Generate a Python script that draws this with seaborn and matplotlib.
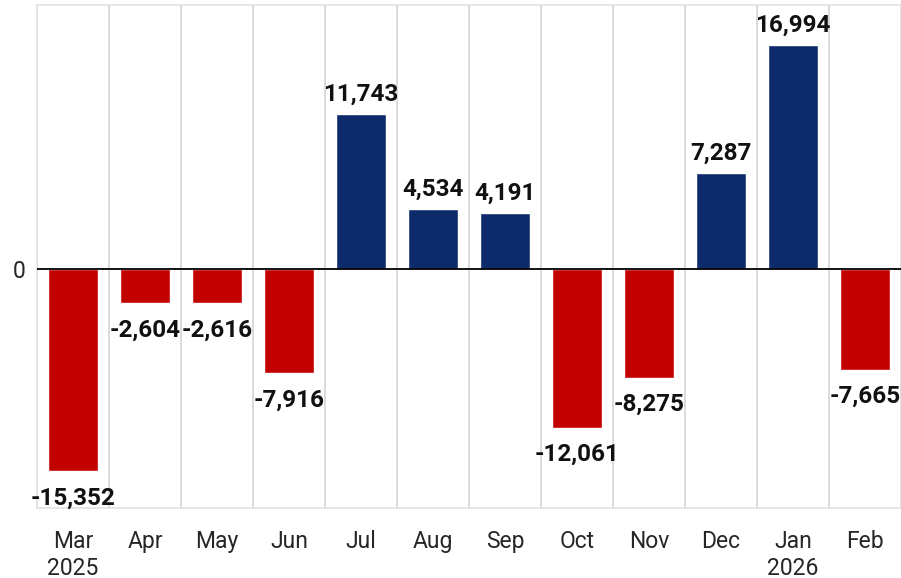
import numpy as np
import pandas as pd
import matplotlib
matplotlib.use("Agg")
import matplotlib.pyplot as plt
import seaborn as sns

months = ["Mar\n2025", "Apr", "May", "Jun", "Jul", "Aug", "Sep",
          "Oct", "Nov", "Dec", "Jan\n2026", "Feb"]
values = [-15352, -2604, -2616, -7916, 11743, 4534, 4191,
          -12061, -8275, 7287, 16994, -7665]

navy = "#0d2b6b"
red = "#c20000"

df = pd.DataFrame({"Month": months, "Value": values})
colors = [navy if v > 0 else red for v in values]

sns.set_style("white")
plt.rcParams["font.family"] = ["Roboto", "DejaVu Sans"]

fig = plt.figure(figsize=(9.01, 5.78), dpi=100)
ax = fig.add_axes([37 / 901, 70 / 578, 864 / 901, 503 / 578])

sns.barplot(data=df, x="Month", y="Value", hue="Month", palette=colors,
            legend=False, width=0.7, ax=ax, saturation=1)

# negative labels sit a bit further from the bar end
for c in ax.containers:
    neg = c.datavalues[0] < 0
    ax.bar_label(c, fmt="{:,.0f}", padding=11 if neg else 6, fontsize=17.5,
                 fontweight="bold", color="#111111")

ax.set_xlim(-0.5, 11.5)
ax.set_ylim(-18150, 20000)
ax.axhline(0, color="black", lw=1.3, zorder=3)

# light separators between months
ax.set_xticks(np.arange(-0.5, 12, 1), minor=True)
ax.grid(which="minor", axis="x", color="#d4d4d4", lw=1.2)
ax.set_axisbelow(True)
ax.tick_params(which="both", length=0)

ax.set_yticks([0])
ax.set_yticklabels(["0"], fontsize=16.5)
ax.tick_params(axis="y", pad=8)
ax.tick_params(axis="x", labelsize=16.5, pad=16)
ax.set_xlabel("")
ax.set_ylabel("")

for s in ["top", "bottom", "left", "right"]:
    ax.spines[s].set_color("#e2e2e2")
    ax.spines[s].set_linewidth(1.2)

fig.savefig("out.png", dpi=100)
